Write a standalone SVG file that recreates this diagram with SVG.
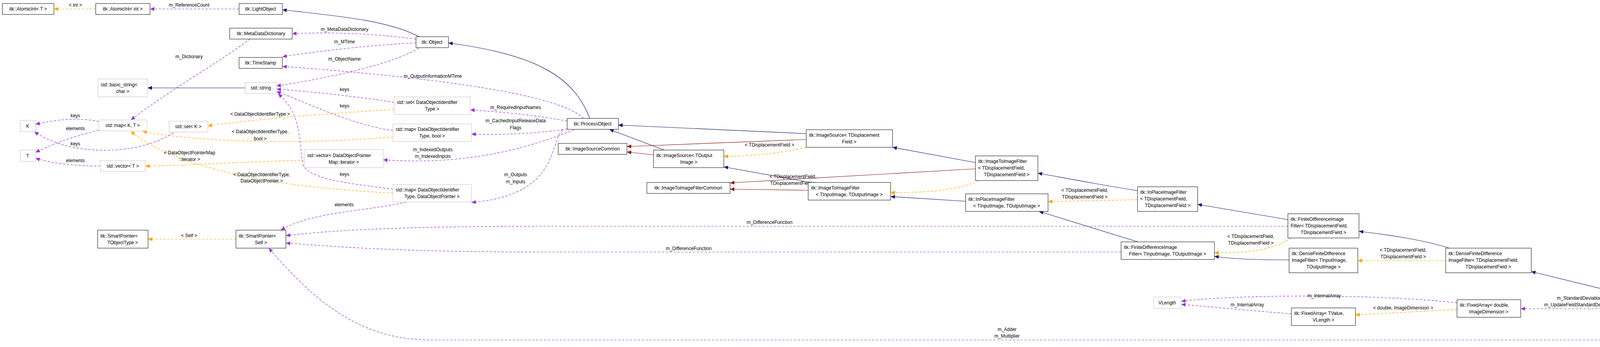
<svg xmlns="http://www.w3.org/2000/svg" width="4672" height="888" viewBox="0 0 4672 888">
<style>
text{font-family:"Liberation Sans",Arial,sans-serif;font-size:12px;fill:#000}
.n rect{fill:#fff;stroke:#000;stroke-width:1}
.g rect{fill:#fff;stroke:#bfbfbf;stroke-width:1}
.m{text-anchor:middle}
.e path{fill:none;stroke-width:1.2}
.p{stroke:#9a32cd;stroke-dasharray:6,4;marker-end:url(#ap)}
.o{stroke:#ffa500;stroke-dasharray:6,4;marker-end:url(#ao)}
.b{stroke:#191970;marker-end:url(#ab)}
.r{stroke:#8b1a1a;marker-end:url(#ar)}
</style>
<defs>
<marker id="ap" markerWidth="12" markerHeight="10" refX="11" refY="5" orient="auto" markerUnits="userSpaceOnUse"><path d="M0,0 L11,5 L0,10 z" fill="#9a32cd"/></marker>
<marker id="ao" markerWidth="12" markerHeight="10" refX="11" refY="5" orient="auto" markerUnits="userSpaceOnUse"><path d="M0,0 L11,5 L0,10 z" fill="#ffa500"/></marker>
<marker id="ab" markerWidth="12" markerHeight="10" refX="11" refY="5" orient="auto" markerUnits="userSpaceOnUse"><path d="M0,0 L11,5 L0,10 z" fill="#191970"/></marker>
<marker id="ar" markerWidth="12" markerHeight="10" refX="11" refY="5" orient="auto" markerUnits="userSpaceOnUse"><path d="M0,0 L11,5 L0,10 z" fill="#8b1a1a"/></marker>
</defs>
<g id="edges" class="e">
<path class="o" d="M245,23 L138,23"/>
<path class="p" d="M612,23 L384,23"/>
<path class="b" d="M1073,94 C990,50 850,40 723,25"/>
<path class="p" d="M1065,100 C950,85 850,82 748,86"/>
<path class="p" d="M1065,110 C950,115 820,130 723,145"/>
<path class="p" d="M1072,123 C1020,155 900,190 708,220"/>
<path class="p" d="M1494,303 C1420,230 1000,190 723,170"/>
<path class="b" d="M1510,303 C1470,200 1380,140 1148,110"/>
<path class="p" d="M640,100 C560,160 420,240 335,307"/>
<path class="b" d="M628,225 L378,225"/>
<path class="p" d="M253,311 C200,300 150,305 91,318"/>
<path class="p" d="M253,333 C200,345 130,370 91,390"/>
<path class="p" d="M444,340 C350,400 180,400 88,337"/>
<path class="p" d="M257,425 C200,425 140,420 91,405"/>
<path class="o" d="M1009,280 C850,290 650,305 532,322"/>
<path class="p" d="M1009,262 C900,245 800,235 708,228"/>
<path class="o" d="M1006,350 C800,370 500,365 365,336"/>
<path class="p" d="M1006,334 C900,320 780,260 708,234"/>
<path class="o" d="M779,410 C600,415 450,425 372,425"/>
<path class="o" d="M1006,494 C700,480 450,430 335,336"/>
<path class="p" d="M1006,484 C900,470 790,460 775,420 C765,350 770,290 712,240"/>
<path class="p" d="M1452,310 C1350,290 1250,285 1204,281"/>
<path class="p" d="M1452,330 C1350,345 1250,345 1207,343"/>
<path class="p" d="M1470,332 C1300,400 1150,420 981,409"/>
<path class="p" d="M1440,332 C1405,370 1430,500 1207,518"/>
<path class="p" d="M1040,517 C950,540 800,540 719,589"/>
<path class="o" d="M604,612 L379,612"/>
<path class="b" d="M1700,384 L1560,331"/>
<path class="r" d="M1673,396 L1605,389"/>
<path class="b" d="M2064,342 L1583,320"/>
<path class="r" d="M2064,357 L1605,375"/>
<path class="o" d="M2064,377 C1990,395 1900,400 1853,400"/>
<path class="b" d="M2075,467 L1853,427"/>
<path class="r" d="M2069,487 L1869,484"/>
<path class="b" d="M2497,416 L2285,377"/>
<path class="r" d="M2497,432 L1869,468"/>
<path class="o" d="M2505,462 C2450,490 2350,493 2280,493"/>
<path class="b" d="M2472,515 L2280,503"/>
<path class="b" d="M2912,488 C2800,470 2750,460 2657,443"/>
<path class="o" d="M2912,511 L2683,516"/>
<path class="b" d="M2913,619 L2660,541"/>
<path class="b" d="M3297,562 L3066,523"/>
<path class="o" d="M3305,609 C3260,640 3200,647 3109,647"/>
<path class="b" d="M3300,665 C3200,665 3150,662 3109,656"/>
<path class="b" d="M3710,635 C3650,615 3550,600 3479,592"/>
<path class="o" d="M3701,667 L3476,667"/>
<path class="b" d="M4178,758 L3920,695"/>
<path class="b" d="M4458,822 L4407,811"/>
<path class="p" d="M4170,790 L3893,790"/>
<path class="p" d="M3730,775 C3500,750 3150,755 3024,771"/>
<path class="p" d="M3306,803 C3200,795 3100,785 3024,779"/>
<path class="o" d="M3730,792 L3470,806"/>
<path class="p" d="M3297,579 L1400,579 C1000,579 850,590 732,603"/>
<path class="p" d="M2870,645 L1400,645 C1000,645 850,630 732,622"/>
<path class="p" d="M4458,858 C4400,868 4300,870 4200,870 L1100,870 C900,870 780,740 688,635"/>
</g>
<g id="edge-labels" class="m">
<text x="193" y="17">&lt; int &gt;</text>
<text x="484" y="17">m_ReferenceCount</text>
<text x="882" y="79">m_MetaDataDictionary</text>
<text x="882" y="111">m_MTime</text>
<text x="882" y="155">m_ObjectName</text>
<text x="1108" y="199">m_OutputInformationMTime</text>
<text x="484" y="149">m_Dictionary</text>
<text x="193" y="300">keys</text>
<text x="193" y="333">elements</text>
<text x="193" y="372">keys</text>
<text x="193" y="415">elements</text>
<text x="666" y="296">&lt; DataObjectIdentifierType &gt;</text>
<text x="666" y="341">&lt; DataObjectIdentifierType,</text>
<text x="666" y="359">bool &gt;</text>
<text x="485" y="395">&lt; DataObjectPointerMap</text>
<text x="485" y="412">::iterator &gt;</text>
<text x="670" y="451">&lt; DataObjectIdentifierType,</text>
<text x="670" y="467">DataObjectPointer &gt;</text>
<text x="882" y="233">keys</text>
<text x="882" y="275">keys</text>
<text x="882" y="450">keys</text>
<text x="1320" y="279">m_RequiredInputNames</text>
<text x="1320" y="313">m_CachedInputReleaseData</text>
<text x="1320" y="331">Flags</text>
<text x="1108" y="387">m_IndexedOutputs</text>
<text x="1108" y="404">m_IndexedInputs</text>
<text x="1320" y="451">m_Outputs</text>
<text x="1320" y="469">m_Inputs</text>
<text x="881" y="528">elements</text>
<text x="484" y="607">&lt; Self &gt;</text>
<text x="1970" y="375">&lt; TDisplacementField &gt;</text>
<text x="2030" y="456">&lt; TDisplacementField,</text>
<text x="2030" y="473">TDisplacementField &gt;</text>
<text x="1970" y="573">m_DifferenceFunction</text>
<text x="1763" y="640">m_DifferenceFunction</text>
<text x="2777" y="491">&lt; TDisplacementField,</text>
<text x="2777" y="508">TDisplacementField &gt;</text>
<text x="3202" y="609">&lt; TDisplacementField,</text>
<text x="3202" y="626">TDisplacementField &gt;</text>
<text x="3592" y="644">&lt; TDisplacementField,</text>
<text x="3592" y="661">TDisplacementField &gt;</text>
<text x="3390" y="761">m_InternalArray</text>
<text x="3193" y="784">m_InternalArray</text>
<text x="3592" y="792">&lt; double, ImageDimension &gt;</text>
<text x="4046" y="767">m_StandardDeviations</text>
<text x="4046" y="784">m_UpdateFieldStandardDeviations</text>
<text x="2578" y="847">m_Adder</text>
<text x="2578" y="864">m_Multiplier</text>
</g>
<g id="AtomicIntT" class="n"><rect x="6" y="9" width="132" height="28"/><text class="m" x="72" y="27">itk::AtomicInt&lt; T &gt;</text></g>
<g id="AtomicIntInt" class="n"><rect x="245" y="9" width="139" height="28"/><text class="m" x="314" y="27">itk::AtomicInt&lt; int &gt;</text></g>
<g id="LightObject" class="n"><rect x="612" y="9" width="111" height="28"/><text class="m" x="667" y="27">itk::LightObject</text></g>
<g id="MetaDataDictionary" class="n"><rect x="588" y="72" width="160" height="28"/><text class="m" x="668" y="90">itk::MetaDataDictionary</text></g>
<g id="TimeStamp" class="n"><rect x="612" y="147" width="111" height="28"/><text class="m" x="667" y="165">itk::TimeStamp</text></g>
<g id="basic_string" class="g"><rect x="251" y="202" width="127" height="46"/><text x="258" y="221">std::basic_string&lt;</text><text class="m" x="314" y="238">char &gt;</text></g>
<g id="string" class="g"><rect x="628" y="211" width="80" height="28"/><text class="m" x="668" y="229">std::string</text></g>
<g id="K" class="g"><rect x="52" y="308" width="39" height="29"/><text class="m" x="71" y="327">K</text></g>
<g id="T" class="g"><rect x="52" y="384" width="39" height="29"/><text class="m" x="71" y="403">T</text></g>
<g id="mapKT" class="g"><rect x="253" y="307" width="123" height="28"/><text class="m" x="314" y="325">std::map&lt; K, T &gt;</text></g>
<g id="setK" class="g"><rect x="433" y="310" width="99" height="28"/><text class="m" x="482" y="328">std::set&lt; K &gt;</text></g>
<g id="vectorT" class="g"><rect x="257" y="411" width="115" height="28"/><text class="m" x="314" y="429">std::vector&lt; T &gt;</text></g>
<g id="SmartPointerTObjectType" class="n"><rect x="250" y="589" width="129" height="46"/><text x="257" y="608">itk::SmartPointer&lt;</text><text class="m" x="314" y="625">TObjectType &gt;</text></g>
<g id="SmartPointerSelf" class="n"><rect x="604" y="589" width="128" height="46"/><text x="611" y="608">itk::SmartPointer&lt;</text><text class="m" x="668" y="625">Self &gt;</text></g>
<g id="Object" class="n"><rect x="1065" y="94" width="83" height="28"/><text class="m" x="1106" y="112">itk::Object</text></g>
<g id="setDOIT" class="g"><rect x="1009" y="248" width="195" height="45"/><text x="1016" y="266">std::set&lt; DataObjectIdentifier</text><text class="m" x="1106" y="283">Type &gt;</text></g>
<g id="mapDOITbool" class="g"><rect x="1006" y="317" width="201" height="45"/><text x="1013" y="335">std::map&lt; DataObjectIdentifier</text><text class="m" x="1106" y="352">Type, bool &gt;</text></g>
<g id="vectorDOPM" class="g"><rect x="779" y="383" width="202" height="46"/><text x="786" y="402">std::vector&lt; DataObjectPointer</text><text class="m" x="880" y="419">Map::iterator &gt;</text></g>
<g id="mapDOITDOP" class="g"><rect x="1006" y="472" width="201" height="45"/><text x="1013" y="490">std::map&lt; DataObjectIdentifier</text><text class="m" x="1106" y="507">Type, DataObjectPointer &gt;</text></g>
<g id="ProcessObject" class="n"><rect x="1452" y="303" width="131" height="28"/><text class="m" x="1517" y="321">itk::ProcessObject</text></g>
<g id="ImageSourceCommon" class="n"><rect x="1429" y="367" width="176" height="28"/><text class="m" x="1517" y="385">itk::ImageSourceCommon</text></g>
<g id="ImageSourceTOutputImage" class="n"><rect x="1673" y="384" width="180" height="45"/><text x="1680" y="402">itk::ImageSource&lt; TOutput</text><text class="m" x="1763" y="419">Image &gt;</text></g>
<g id="ImageSourceTDisplacementField" class="n"><rect x="2064" y="332" width="221" height="45"/><text x="2071" y="350">itk::ImageSource&lt; TDisplacement</text><text class="m" x="2174" y="367">Field &gt;</text></g>
<g id="ImageToImageFilterCommon" class="n"><rect x="1656" y="467" width="213" height="28"/><text class="m" x="1762" y="485">itk::ImageToImageFilterCommon</text></g>
<g id="ImageToImageFilterTI" class="n"><rect x="2069" y="467" width="211" height="45"/><text x="2076" y="485">itk::ImageToImageFilter</text><text class="m" x="2174" y="502">&lt; TInputImage, TOutputImage &gt;</text></g>
<g id="ImageToImageFilterTDF" class="n"><rect x="2497" y="399" width="160" height="63"/><text x="2504" y="417">itk::ImageToImageFilter</text><text x="2504" y="434">&lt; TDisplacementField,</text><text class="m" x="2577" y="451">TDisplacementField &gt;</text></g>
<g id="InPlaceImageFilterTI" class="n"><rect x="2472" y="496" width="211" height="45"/><text x="2479" y="514">itk::InPlaceImageFilter</text><text class="m" x="2577" y="531">&lt; TInputImage, TOutputImage &gt;</text></g>
<g id="InPlaceImageFilterTDF" class="n"><rect x="2912" y="478" width="154" height="63"/><text x="2919" y="496">itk::InPlaceImageFilter</text><text x="2919" y="513">&lt; TDisplacementField,</text><text class="m" x="2989" y="530">TDisplacementField &gt;</text></g>
<g id="FiniteDifferenceImageFilterTI" class="n"><rect x="2870" y="619" width="239" height="45"/><text x="2877" y="637">itk::FiniteDifferenceImage</text><text class="m" x="2989" y="654">Filter&lt; TInputImage, TOutputImage &gt;</text></g>
<g id="FiniteDifferenceImageFilterTDF" class="n"><rect x="3297" y="547" width="182" height="62"/><text x="3304" y="565">itk::FiniteDifferenceImage</text><text x="3304" y="582">Filter&lt; TDisplacementField,</text><text class="m" x="3388" y="599">TDisplacementField &gt;</text></g>
<g id="DenseFiniteDifferenceImageFilterTI" class="n"><rect x="3300" y="635" width="176" height="63"/><text x="3307" y="653">itk::DenseFiniteDifference</text><text x="3307" y="670">ImageFilter&lt; TInputImage,</text><text class="m" x="3388" y="687">TOutputImage &gt;</text></g>
<g id="DenseFiniteDifferenceImageFilterTDF" class="n"><rect x="3701" y="635" width="219" height="63"/><text x="3708" y="653">itk::DenseFiniteDifference</text><text x="3708" y="670">ImageFilter&lt; TDisplacementField,</text><text class="m" x="3810" y="687">TDisplacementField &gt;</text></g>
<g id="VLength" class="g"><rect x="2953" y="760" width="71" height="29"/><text class="m" x="2988" y="779">VLength</text></g>
<g id="FixedArrayTValue" class="n"><rect x="3306" y="788" width="164" height="45"/><text x="3313" y="806">itk::FixedArray&lt; TValue,</text><text class="m" x="3388" y="823">VLength &gt;</text></g>
<g id="FixedArrayDouble" class="n"><rect x="3730" y="767" width="163" height="45"/><text x="3737" y="785">itk::FixedArray&lt; double,</text><text class="m" x="3811" y="802">ImageDimension &gt;</text></g>
<g id="PDEDeformableRegistrationFilter" class="n"><rect x="4170" y="758" width="237" height="63"/><text x="4177" y="776">itk::PDEDeformableRegistration</text><text x="4177" y="793">Filter&lt; TFixedImage, TMovingImage,</text><text class="m" x="4288" y="810">TDisplacementField &gt;</text></g>
<g id="FastSymmetricForcesDemonsRegistrationFilter" class="n"><rect x="4458" y="803" width="208" height="79" style="fill:#bfbfbf"/><text x="4465" y="821">itk::FastSymmetricForces</text><text x="4465" y="838">DemonsRegistrationFilter</text><text x="4465" y="855">&lt; TFixedImage, TMovingImage,</text><text class="m" x="4562" y="872">TDisplacementField &gt;</text></g>
</svg>
